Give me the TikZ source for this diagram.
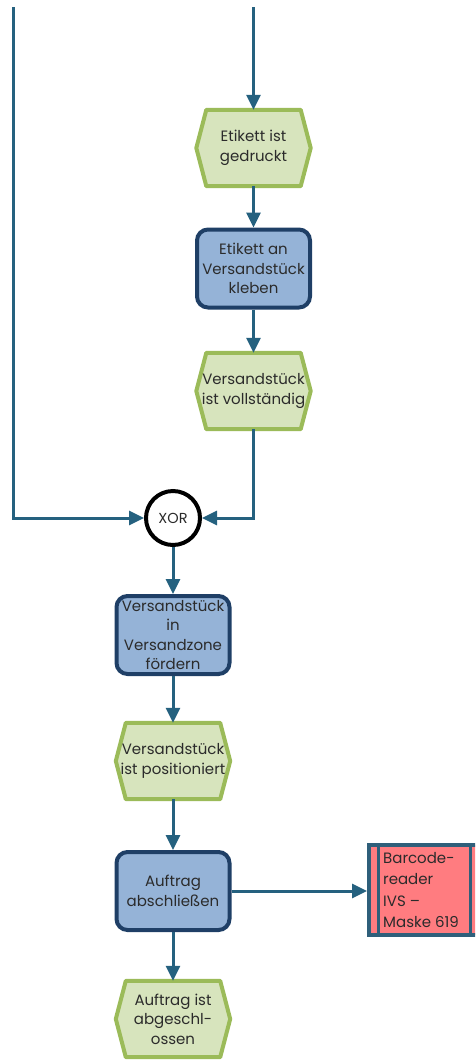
\documentclass[tikz,border=0pt]{standalone}
\usepackage{fontspec}
\setmainfont{Poppins}
\usetikzlibrary{arrows.meta,calc}

\definecolor{flow}{HTML}{25617F}
\definecolor{evfill}{HTML}{D7E4BD}
\definecolor{evline}{HTML}{9BBB59}
\definecolor{fnfill}{HTML}{95B3D7}
\definecolor{fnline}{HTML}{1F3F66}
\definecolor{sysfill}{HTML}{FF7C80}
\definecolor{sysline}{HTML}{2F5F7A}
\definecolor{txt}{HTML}{2B2B2B}

\tikzset{
  lbl/.style={text=txt, font=\fontsize{15}{19.5}\selectfont, align=center, inner sep=0pt},
  evbox/.style={lbl, minimum width=114pt, minimum height=76pt},
  fnbox/.style={lbl, draw=fnline, fill=fnfill, line width=4pt, rounded corners=11pt,
                minimum width=113pt, minimum height=78pt},
  sysbox/.style={draw=sysline, fill=sysfill, line width=4pt, minimum width=110pt, minimum height=90pt},
  xorgate/.style={circle, draw=black, fill=white, line width=4pt, minimum size=54pt,
                  inner sep=0pt, font=\fontsize{14.5}{16}\selectfont, text=txt},
  conn/.style={draw=flow, line width=3pt, -{Triangle[length=15pt,width=14pt]}},
}

% hexagonal event shape drawn around a named rectangular node
\newcommand\evshape[1]{%
  \draw[draw=evline, fill=evfill, line width=4pt, line join=round]
    (#1.west) -- ($(#1.north west)+(10pt,0)$) -- ($(#1.north east)+(-10pt,0)$)
    -- (#1.east) -- ($(#1.south east)+(-10pt,0)$) -- ($(#1.south west)+(10pt,0)$) -- cycle;}

\begin{document}
\begin{tikzpicture}[x=1pt,y=-1pt]
  \useasboundingbox (0,0) rectangle (475,1061);
  \clip (0,0) rectangle (475,1061);

  % events: text placed on top after the outline is drawn
  \node[evbox] (ev1) at (253.5,148) {};
  \node[evbox] (ev2) at (253.5,391) {};
  \node[evbox] (ev3) at (173,761) {};
  \node[evbox] (ev4) at (173,1019) {};
  \evshape{ev1}\evshape{ev2}\evshape{ev3}\evshape{ev4}
  \node[lbl] at (ev1) {Etikett ist\\gedruckt};
  \node[lbl] at (ev2) {Versandstück\\ist vollständig};
  \node[lbl] at (ev3) {Versandstück\\ist positioniert};
  \node[lbl] at (ev4) {Auftrag ist\\abgeschl-\\ossen};

  % functions
  \node[fnbox] (fn1) at (253.5,268.5) {Etikett an\\Versandstück\\kleben};
  \node[fnbox] (fn2) at (173,635) {Versandstück\\in\\Versandzone\\fördern};
  \node[fnbox] (fn3) at (173,891) {Auftrag\\abschließen};

  % connector
  \node[xorgate] (xor) at (173,518) {XOR};

  % application system
  \node[sysbox] (sys) at (424,890) {};
  \draw[sysline, line width=3pt] ($(sys.north west)+(11pt,0)$) -- ($(sys.south west)+(11pt,0)$);
  \draw[sysline, line width=3pt] ($(sys.north east)+(-11pt,0)$) -- ($(sys.south east)+(-11pt,0)$);
  \node[lbl, align=left, anchor=west]
    at ($(sys.west)+(16pt,0pt)$) {Barcode-\\[2pt]reader\\[2pt]IVS –\\[2pt]Maske 619};

  % incoming flows
  \coordinate (inR) at (253.5,7);
  \coordinate (inL) at (13,7);
  \draw[conn] (inR) -- (ev1.north);
  \draw[conn] (ev1.south) -- (fn1.north);
  \draw[conn] (fn1.south) -- (ev2.north);
  \draw[conn] (ev2.south) |- (xor.east);
  \draw[conn] (inL) |- (xor.west);
  \draw[conn] (xor.south) -- (fn2.north);
  \draw[conn] (fn2.south) -- (ev3.north);
  \draw[conn] (ev3.south) -- (fn3.north);
  \draw[conn] (fn3.south) -- (ev4.north);
  \draw[conn] (fn3.east) -- (fn3.east -| sys.west);
\end{tikzpicture}
\end{document}
